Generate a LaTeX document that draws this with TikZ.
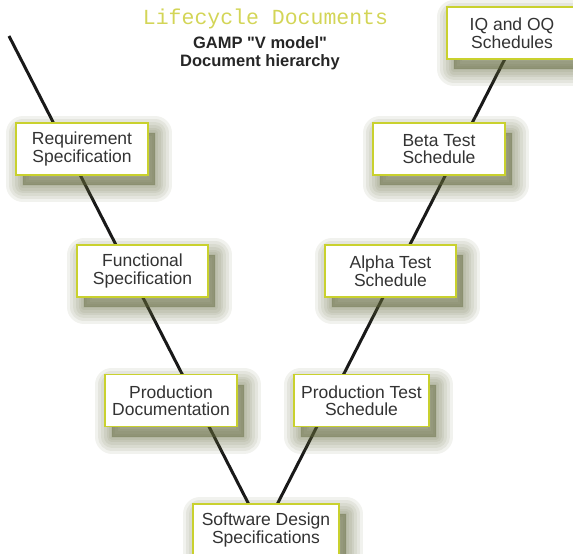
\documentclass[tikz,border=0pt]{standalone}
\usepackage{fontspec}
\setmainfont{Liberation Sans}
\newfontfamily\typewriter{Liberation Mono}
\definecolor{limeedge}{HTML}{C9D12E}
\definecolor{limetitle}{HTML}{D3D557}
\definecolor{olivedrop}{HTML}{5E6438}
\definecolor{inktext}{HTML}{333333}
\tikzset{
  softlayer/.style={preaction={draw=olivedrop, fill=olivedrop, line width=#1,
      line join=round, opacity=0.085, transform canvas={xshift=7pt, yshift=-10pt}}},
  docbox/.style={softlayer=34pt, softlayer=28pt, softlayer=22pt, softlayer=16pt,
    softlayer=11pt, softlayer=6pt, softlayer=2pt,
    draw=limeedge, line width=1.6pt, fill=white, text=inktext,
    minimum width=132pt, minimum height=52pt, inner sep=2pt, align=center,
    font=\fontsize{17.5}{17.5}\selectfont},
  vline/.style={line width=3pt, draw=black!90}
}
\begin{document}
\begin{tikzpicture}[x=1pt, y=-1pt]
  \useasboundingbox (0,0) rectangle (573,554);

  % the V behind the documents
  \coordinate (vl) at (9,36);
  \coordinate (vb) at (263,532);
  \coordinate (vr) at (512,45);
  \draw[vline] (vl) -- (vb) -- (vr);

  % headings
  \node[anchor=base, text=limetitle, font=\typewriter\fontsize{21.5}{22}\selectfont]
    (title) at (265.5,24) {Lifecycle Documents};
  \node[align=center, text=black!85, font=\bfseries\fontsize{16.5}{18.5}\selectfont]
    (gamp) at (260,53) {GAMP \textquotedbl V model\textquotedbl\\Document hierarchy};

  % left side
  \node[docbox] (req) at (82,149) {Requirement\\Specification};
  \node[docbox, minimum width=131pt] (func) at (142.5,271) {Functional\\Specification};
  \node[docbox] (proddoc) at (171,400.5) {Production\\Documentation};

  % bottom
  \node[docbox, minimum width=146pt] (soft) at (266,530) {Software Design\\Specifications};

  % right side
  \node[docbox, minimum width=135pt] (prodtest) at (361.5,400.5) {Production Test\\Schedule};
  \node[docbox, minimum width=131pt] (alpha) at (390.5,271) {Alpha Test\\Schedule};
  \node[docbox] (beta) at (439,149) {Beta Test\\Schedule};
  \node[docbox, minimum width=130pt] (iq) at (512,33) {IQ and OQ\\Schedules};
\end{tikzpicture}
\end{document}
